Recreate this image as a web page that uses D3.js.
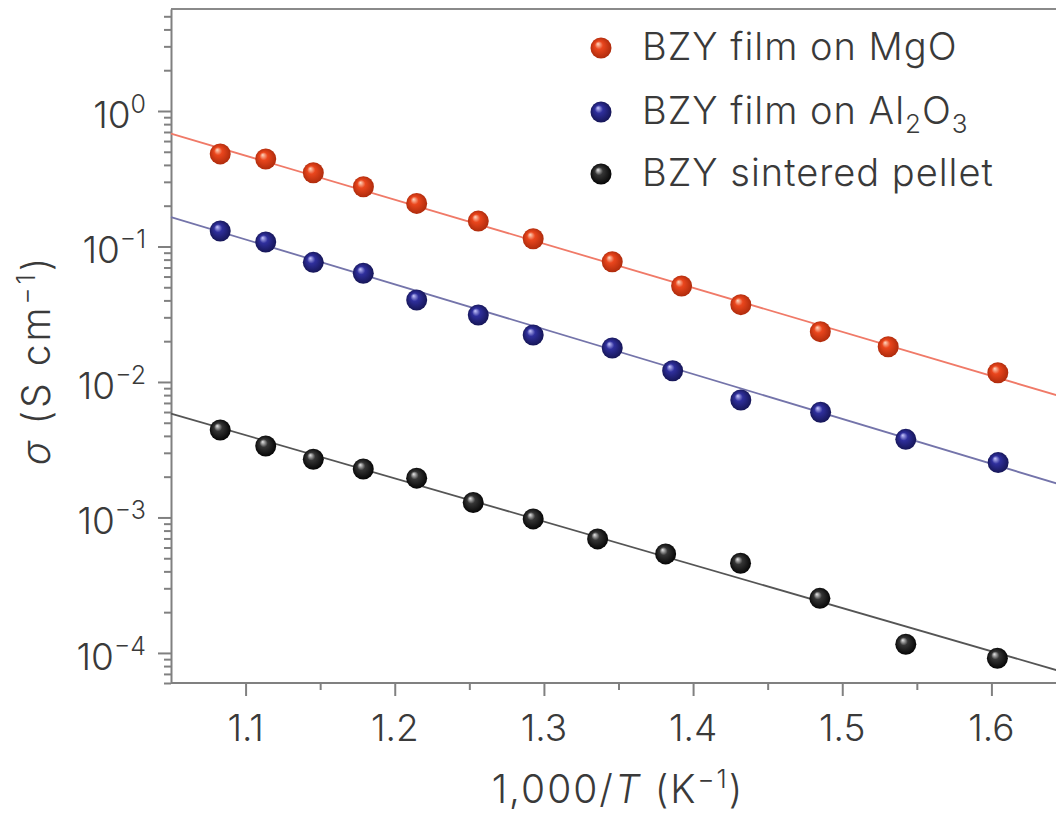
<!DOCTYPE html>
<html>
<head>
<meta charset="utf-8">
<script src="https://cdn.jsdelivr.net/npm/d3@7"></script>
<style>
  body { margin: 0; background: #fff; }
  svg { display: block; }
  text { font-family: Inter, Roboto, "Liberation Sans", sans-serif; font-weight: 300; fill: #3a3a3a; }
  .axis path, .axis line { stroke: #808080; stroke-width: 2; }
</style>
</head>
<body>
<div id="chart"></div>
<script>
const W = 1056, H = 813;
const M = {left: 171, top: 9, bottom: 683, right: 1066};

// data: 1000/T (K^-1) and conductivity (S/cm)
const SERIES = ["BZY film on MgO", "BZY film on Al2O3", "BZY sintered pellet"];
const mgoX = [1.083, 1.1135, 1.1454, 1.179, 1.2147, 1.256, 1.2928, 1.3458, 1.3923, 1.432, 1.4853, 1.5308, 1.6043];
const mgoY = [0.482, 0.442, 0.350, 0.276, 0.208, 0.154, 0.114, 0.0772, 0.0511, 0.0372, 0.0235, 0.0182, 0.0117];
const alX = [1.083, 1.1135, 1.1454, 1.1789, 1.2147, 1.256, 1.2928, 1.3458, 1.3863, 1.432, 1.4855, 1.5426, 1.6045];
const alY = [0.130, 0.108, 0.0764, 0.0634, 0.0403, 0.0312, 0.0222, 0.0178, 0.0121, 0.00736, 0.00598, 0.00377, 0.00254];
const pelX = [1.083, 1.1135, 1.1454, 1.1789, 1.2147, 1.2526, 1.2928, 1.336, 1.3816, 1.4318, 1.485, 1.5426, 1.604];
const pelY = [0.00442, 0.00337, 0.00269, 0.00228, 0.00195, 0.00129, 0.000975, 0.000694, 0.000538, 0.000459, 0.000253, 0.000116, 0.0000914];
// fitted Arrhenius lines, end points at x = 1.05 and x = 1.65
const fitX = [1.05, 1.65];
const mgoFit = [0.681, 0.00762];
const alFit = [0.165, 0.00170];
const pelFit = [0.00585, 0.0000713];

const X_TICKS = [1.1, 1.2, 1.3, 1.4, 1.5, 1.6];
const X_MINOR = [1.15, 1.25, 1.35, 1.45, 1.55, 1.65];
const Y_DECADES = [0, -1, -2, -3, -4];

const COLORS = [
    {hi: "#ffd9c2", base: "#ea461d", edge: "#a8280a", line: "#f07a68"},
    {hi: "#c9c9ff", base: "#2f2f9c", edge: "#13134f", line: "#7474aa"},
    {hi: "#e8e8e8", base: "#353535", edge: "#000000", line: "#555555"},
];

/* ---------------------------------- */
var x = d3.scaleLinear().domain([1.05, 1.65]).range([M.left, M.right]);
var y = d3.scaleLog().domain([6e-5, 5.66]).range([M.bottom, M.top]);

var svg = d3.select("#chart").append("svg").attr("width", W).attr("height", H);

var defs = svg.append("defs");
COLORS.forEach(function(c, i){
    var g = defs.append("radialGradient").attr("id", "ball" + i)
                .attr("cx", "50%").attr("cy", "50%").attr("r", "55%")
                .attr("fx", "35%").attr("fy", "30%");
    g.append("stop").attr("offset", "0%").attr("stop-color", c.hi);
    g.append("stop").attr("offset", "35%").attr("stop-color", c.base);
    g.append("stop").attr("offset", "100%").attr("stop-color", c.edge);
});

// frame top
svg.append("line")
   .attr("x1", M.left).attr("x2", W).attr("y1", M.top).attr("y2", M.top)
   .attr("stroke", "#8a8a8a").attr("stroke-width", 2);

// x axis
var xAxis = svg.append("g").classed("axis", true)
               .attr("transform", "translate(0," + M.bottom + ")")
               .call(d3.axisBottom(x).tickValues(X_TICKS).tickSize(13).tickSizeOuter(0).tickFormat(""));
xAxis.select("path.domain").attr("d", "M" + M.left + ",0H" + M.right);
svg.append("g").classed("axis", true)
   .attr("transform", "translate(0," + M.bottom + ")")
   .call(d3.axisBottom(x).tickValues(X_MINOR).tickSize(7).tickFormat(""))
   .select("path.domain").remove();
svg.append("g").selectAll("text")
   .data(X_TICKS).enter().append("text")
   .attr("x", (d) => x(d))
   .attr("y", 741)
   .attr("text-anchor", "middle")
   .attr("font-size", 37)
   .text((d) => d.toFixed(1));

// y axis
var majors = Y_DECADES.map((e) => Math.pow(10, e));
var minors = [];
Y_DECADES.concat([-5]).forEach(function(e){
    for (var k = 2; k <= 9; k++) {
        var v = k * Math.pow(10, e);
        if (v >= y.domain()[0] && v <= y.domain()[1]) minors.push(v);
    }
});
svg.append("g").classed("axis", true)
   .attr("transform", "translate(" + M.left + ",0)")
   .call(d3.axisLeft(y).tickValues(majors).tickSize(13).tickSizeOuter(0).tickFormat(""));
svg.append("g").classed("axis", true)
   .attr("transform", "translate(" + M.left + ",0)")
   .call(d3.axisLeft(y).tickValues(minors).tickSize(7).tickFormat(""))
   .select("path.domain").remove();
var yl = svg.append("g").selectAll("text")
            .data(Y_DECADES).enter().append("text")
            .attr("x", 146)
            .attr("y", (d) => y(Math.pow(10, d)) + 17)
            .attr("text-anchor", "end")
            .attr("font-size", 37);
yl.append("tspan").text("10");
yl.append("tspan").attr("font-size", 25).attr("dy", -15)
  .text((d) => (d === 0 ? "0" : "\u2212" + (-d)));

// fit lines
var fits = [mgoFit, alFit, pelFit];
var line = d3.line().x((d) => x(d[0])).y((d) => y(d[1]));
fits.forEach(function(f, i){
    svg.append("path")
       .attr("d", line(d3.zip(fitX, f)))
       .attr("fill", "none")
       .attr("stroke", COLORS[i].line)
       .attr("stroke-width", 1.8);
});

// points
var sets = [d3.zip(mgoX, mgoY), d3.zip(alX, alY), d3.zip(pelX, pelY)];
sets.forEach(function(pts, i){
    svg.append("g").selectAll("circle")
       .data(pts).enter().append("circle")
       .attr("cx", (d) => x(d[0]))
       .attr("cy", (d) => y(d[1]))
       .attr("r", 10.5)
       .attr("fill", "url(#ball" + i + ")");
});

// legend
var leg = svg.append("g").attr("transform", "translate(601,48)");
var rows = leg.selectAll("g").data(SERIES).enter().append("g")
              .attr("transform", (d, i) => "translate(0," + [0, 64, 126][i] + ")");
rows.append("circle").attr("r", 10.5).attr("fill", (d, i) => "url(#ball" + i + ")");
var lt = rows.append("text").attr("x", 41).attr("y", 12)
             .attr("font-size", 38).attr("letter-spacing", 1);
lt.each(function(d){
    var t = d3.select(this);
    if (d.indexOf("Al2O3") < 0) { t.text(d); return; }
    t.append("tspan").text("BZY film on Al");
    t.append("tspan").attr("font-size", 26).attr("dy", 9).text("2");
    t.append("tspan").attr("dy", -9).text("O");
    t.append("tspan").attr("font-size", 26).attr("dy", 9).text("3");
});

// axis titles
var xt = svg.append("text").attr("x", 618).attr("y", 803)
            .attr("text-anchor", "middle").attr("font-size", 39).attr("letter-spacing", 2);
xt.append("tspan").text("1,000/");
xt.append("tspan").attr("font-style", "italic").text("T");
xt.append("tspan").text(" (K");
xt.append("tspan").attr("font-size", 26).attr("dy", -15).text("\u22121");
xt.append("tspan").attr("dy", 15).text(")");

var ytl = svg.append("text").attr("transform", "translate(50,360) rotate(-90)")
             .attr("text-anchor", "middle").attr("font-size", 39).attr("letter-spacing", 3);
ytl.append("tspan").attr("font-style", "italic").text("\u03c3");
ytl.append("tspan").text(" (S cm");
ytl.append("tspan").attr("font-size", 26).attr("dy", -15).text("\u22121");
ytl.append("tspan").attr("dy", 15).text(")");
</script>
</body>
</html>
